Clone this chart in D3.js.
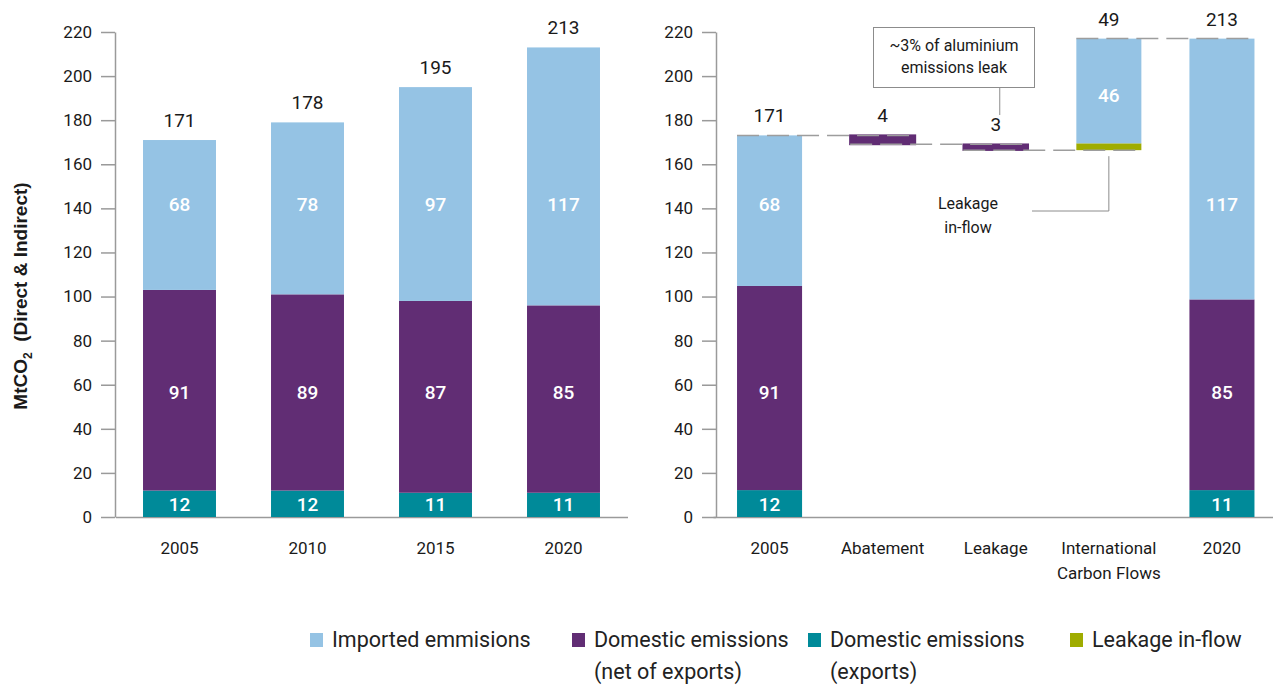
<!DOCTYPE html>
<meta charset="utf-8">
<head>
  <title>Aluminium emissions</title>
</head>
<script src="https://d3js.org/d3.v7.min.js"></script>
<body style="margin:0;background:#fff">
  <div id="chart"></div>

<style>
  text { font-family: Roboto, "Liberation Sans", sans-serif; fill: #1a1a1a; }
  .axis path, .axis line { stroke: #9a9a9a; stroke-width: 1.5; }
  .axis text { font-size: 17px; fill: #1a1a1a; }
</style>

<script>
  // left chart: stacked bars by year
  var years = ["2005", "2010", "2015", "2020"];
  var exportsVals = [12, 12, 11, 11];
  var domesticVals = [91, 89, 87, 85];
  var importedVals = [68, 78, 97, 117];
  var totalLabels = ["171", "178", "195", "213"];

  // right chart: waterfall 2005 -> 2020
  var steps = ["2005", "Abatement", "Leakage", "International Carbon Flows", "2020"];
  var startVals = [12.2, 92.6, 68.3];   // exports, domestic, imported
  var endVals = [12.2, 86.5, 118.3];
  var startLabels = ["12", "91", "68"];
  var endLabels = ["11", "85", "117"];
  var abatement = 4.0, leakage = 2.7, leakInflow = 3.1, intlImported = 47.5;
  var stepLabels = ["171", "4", "3", "49", "213"];
  var intlLabel = "46";

  var yTicks = [0, 20, 40, 60, 80, 100, 120, 140, 160, 180, 200, 220];

  var cExports = "#008a99", cDomestic = "#612d74", cImported = "#95c3e4", cInflow = "#9fac00";
  var segColors = [cExports, cDomestic, cImported];
  // value at which the in-bar labels sit (all bars use the same rows)
  var labelRows = [5.6, 56.5, 142];

  var width = 1273, height = 686;
  var svg = d3.select("#chart").append("svg")
    .attr("width", width)
    .attr("height", height);

  var y = d3.scaleLinear().domain([0, 220]).range([517, 32]);

  var xL = d3.scaleBand().domain(years).range([115.5, 627.5])
    .paddingInner(0.43).paddingOuter(0.215);
  var xR = d3.scaleBand().domain(steps).range([713, 1278.5])
    .paddingInner(0.425).paddingOuter(0.2125);

  // y axes
  svg.append("g").attr("class", "axis")
    .attr("transform", "translate(115,0)")
    .call(d3.axisLeft(y).tickValues(yTicks).tickSize(14).tickSizeOuter(0).tickPadding(9));
  svg.append("g").attr("class", "axis")
    .attr("transform", "translate(716,0)")
    .call(d3.axisLeft(y).tickValues(yTicks).tickSize(14).tickSizeOuter(0).tickPadding(9));

  // x axes
  svg.append("g").attr("class", "axis")
    .attr("transform", "translate(0,517)")
    .call(d3.axisBottom(xL).tickSize(0).tickPadding(25));
  var xAxR = svg.append("g").attr("class", "axis")
    .attr("transform", "translate(0,517)")
    .call(d3.axisBottom(xR).tickSize(0).tickPadding(25));
  xAxR.selectAll(".tick text").each(function (d) {
    if (d.indexOf("International") === 0) {
      var t = d3.select(this).text("");
      t.append("tspan").attr("x", 0).attr("dy", "0.71em").text("International");
      t.append("tspan").attr("x", 0).attr("dy", "1.47em").text("Carbon Flows");
    }
  });

  // y title
  var yt = svg.append("text")
    .attr("transform", "translate(27,296) rotate(-90)")
    .attr("text-anchor", "middle")
    .style("font-family", "'Liberation Sans', Arial, sans-serif")
    .style("font-size", "19px")
    .style("font-weight", "bold");
  yt.append("tspan").text("MtCO");
  yt.append("tspan").attr("dy", 5).style("font-size", "12px").text("2");
  yt.append("tspan").attr("dy", -5).text("\u00a0\u00a0(Direct & Indirect)");

  function stackBar(g, x0, bw, vals, labels) {
    var base = 0;
    vals.forEach(function (v, i) {
      g.append("rect")
        .attr("x", x0).attr("width", bw)
        .attr("y", y(base + v)).attr("height", y(base) - y(base + v))
        .attr("fill", segColors[i]);
      g.append("text")
        .attr("x", x0 + bw / 2).attr("y", y(labelRows[i]))
        .attr("dy", "0.35em").attr("text-anchor", "middle")
        .style("font-size", "19px").style("font-weight", 500)
        .style("fill", "#fff")
        .text(labels[i]);
      base += v;
    });
    return base;
  }

  function topLabel(cx, top, txt) {
    svg.append("text")
      .attr("x", cx).attr("y", y(top) - 13)
      .attr("text-anchor", "middle")
      .style("font-size", "19px")
      .text(txt);
  }

  // left bars
  var gL = svg.append("g");
  years.forEach(function (yr, i) {
    var vals = [exportsVals[i], domesticVals[i], importedVals[i]];
    var labs = vals.map(String);
    var tot = stackBar(gL, xL(yr), xL.bandwidth(), vals, labs);
    topLabel(xL(yr) + xL.bandwidth() / 2, tot, totalLabels[i]);
  });

  // waterfall
  var gR = svg.append("g");
  var bw = xR.bandwidth();
  var lv0 = stackBar(gR, xR(steps[0]), bw, startVals, startLabels);
  var lv1 = lv0 - abatement;
  var lv2 = lv1 - leakage;
  var lv3 = lv2 + leakInflow;
  var lv4 = lv3 + intlImported;

  gR.append("rect")
    .attr("x", xR(steps[1])).attr("width", bw)
    .attr("y", y(lv0)).attr("height", y(lv1) - y(lv0))
    .attr("fill", cDomestic).attr("stroke", cDomestic).attr("stroke-width", 2);
  gR.append("rect")
    .attr("x", xR(steps[2])).attr("width", bw)
    .attr("y", y(lv1)).attr("height", y(lv2) - y(lv1))
    .attr("fill", cDomestic).attr("stroke", cDomestic).attr("stroke-width", 1.5);
  gR.append("rect")
    .attr("x", xR(steps[3])).attr("width", bw)
    .attr("y", y(lv3)).attr("height", y(lv2) - y(lv3))
    .attr("fill", cInflow);
  gR.append("rect")
    .attr("x", xR(steps[3])).attr("width", bw)
    .attr("y", y(lv4)).attr("height", y(lv3) - y(lv4))
    .attr("fill", cImported);
  gR.append("text")
    .attr("x", xR(steps[3]) + bw / 2).attr("y", y(lv3 + intlImported / 2) + 4)
    .attr("dy", "0.35em").attr("text-anchor", "middle")
    .style("font-size", "19px").style("font-weight", 500).style("fill", "#fff")
    .text(intlLabel);
  var lvEnd = stackBar(gR, xR(steps[4]), bw, endVals, endLabels);

  var tops = [lv0, lv0, lv1, lv4, lvEnd];
  steps.forEach(function (s, i) {
    topLabel(xR(s) + bw / 2, tops[i], stepLabels[i]);
  });

  // dashed connectors, drawn over the bars
  var levels = [lv0, lv1, lv2, lv4];
  levels.forEach(function (lv, i) {
    gR.append("line")
      .attr("x1", xR(steps[i])).attr("x2", xR(steps[i + 1]) + bw)
      .attr("y1", y(lv)).attr("y2", y(lv))
      .attr("stroke", "#9d9d9d").attr("stroke-width", 1.5)
      .attr("stroke-dasharray", "22,8");
  });

  // callouts
  var ann = svg.append("g");
  var lkX = xR("Leakage") + bw / 2 + 4;
  ann.append("rect")
    .attr("x", 873.5).attr("y", 27.5).attr("width", 161).attr("height", 60)
    .attr("fill", "#fff").attr("stroke", "#8c8c8c").attr("stroke-width", 1);
  ann.append("text").attr("x", 954).attr("y", 45).attr("dy", "0.35em")
    .attr("text-anchor", "middle").style("font-size", "16px").text("~3% of aluminium");
  ann.append("text").attr("x", 954).attr("y", 67).attr("dy", "0.35em")
    .attr("text-anchor", "middle").style("font-size", "16px").text("emissions leak");
  ann.append("line")
    .attr("x1", lkX).attr("x2", lkX).attr("y1", 88).attr("y2", 115)
    .attr("stroke", "#8c8c8c").attr("stroke-width", 1);

  var inX = xR(steps[3]) + bw / 2;
  ann.append("polyline")
    .attr("points", [[1032, 211], [inX, 211], [inX, y(lv2) + 6]].join(" "))
    .attr("fill", "none").attr("stroke", "#8c8c8c").attr("stroke-width", 1);
  ann.append("text").attr("x", 968).attr("y", 203).attr("dy", "0.35em")
    .attr("text-anchor", "middle").style("font-size", "16px").text("Leakage");
  ann.append("text").attr("x", 968).attr("y", 227).attr("dy", "0.35em")
    .attr("text-anchor", "middle").style("font-size", "16px").text("in-flow");

  // legend
  var legendItems = [
    { color: cImported, lines: ["Imported emmisions"], x: 310 },
    { color: cDomestic, lines: ["Domestic emissions", "(net of exports)"], x: 572 },
    { color: cExports, lines: ["Domestic emissions", "(exports)"], x: 808 },
    { color: cInflow, lines: ["Leakage in-flow"], x: 1070 }
  ];
  var lg = svg.append("g");
  legendItems.forEach(function (it) {
    lg.append("rect").attr("x", it.x).attr("y", 633).attr("width", 13).attr("height", 14)
      .attr("fill", it.color);
    it.lines.forEach(function (ln, j) {
      lg.append("text").attr("x", it.x + 22).attr("y", 647 + j * 32)
        .style("font-size", "21.5px").style("fill", "#222").text(ln);
    });
  });
</script>
</body>
